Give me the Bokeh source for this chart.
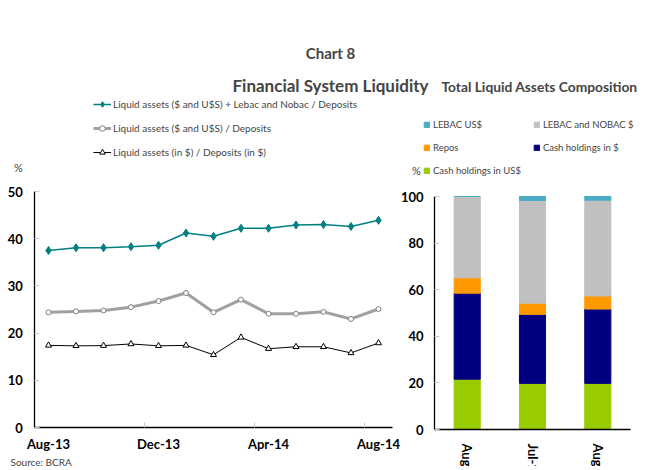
import math
from bokeh.plotting import figure
from bokeh.models import (Legend, LegendItem, Label, FixedTicker, Range1d, LinearAxis,
                          ColumnDataSource)
from bokeh.embed import file_html
from bokeh.resources import INLINE

# ---------------- data ----------------
months = ["Aug-13", "Sep-13", "Oct-13", "Nov-13", "Dec-13", "Jan-14", "Feb-14",
          "Mar-14", "Apr-14", "May-14", "Jun-14", "Jul-14", "Aug-14"]
liq_lebac = [37.5, 38.1, 38.1, 38.3, 38.6, 41.2, 40.5, 42.2, 42.2, 42.9, 43.0, 42.6, 43.9]
liq_total = [24.4, 24.6, 24.8, 25.5, 26.8, 28.5, 24.4, 27.1, 24.1, 24.1, 24.5, 23.0, 25.1]
liq_pesos = [17.4, 17.3, 17.35, 17.7, 17.3, 17.4, 15.4, 19.1, 16.7, 17.1, 17.1, 15.8, 17.9]
label_every = 4
left_ticks = [0, 10, 20, 30, 40, 50]

bar_cats = ["Aug-13", "Jul-14", "Aug-14"]
cash_usd = [21.6, 19.8, 19.8]
cash_ars = [36.9, 29.6, 31.9]
repos = [6.6, 4.8, 5.6]
lebac_nobac = [34.9, 44.1, 41.1]
lebac_usd = [0.0, 1.7, 1.6]
right_ticks = [0, 20, 40, 60, 80, 100]

FONT = "Lato"
W, H = 641, 466          # canvas; the frame fills it (all axes are pinned)


def fit(v0, p0, v1, p1, lo, hi):
    """Range whose values v0, v1 land at canvas pixels p0, p1 (canvas spans lo..hi)."""
    k = (v1 - v0) / (p1 - p0)
    return Range1d(v0 + (lo - p0) * k, v0 + (hi - p0) * k)


def up(y_from_top):
    return H - y_from_top


# pixel layout (x from left, y from top, converted to Bokeh's bottom-up screen units)
p = figure(width=W, height=H, output_backend="svg", toolbar_location=None, min_border=0,
           x_range=fit(0, 48, 12, 378, 0, W), y_range=fit(0, up(427), 50, up(191), 0, H))
p.extra_x_ranges = {"rx": fit(0, 466.7, 2, 597.3, 0, W)}
p.extra_y_ranges = {"ry": fit(0, up(429), 100, up(196), 0, H)}
p.outline_line_color = None
p.grid.visible = False


def style_axis(ax):
    ax.axis_line_color = "black"
    ax.axis_line_width = 1.3
    ax.major_label_text_font = FONT
    ax.major_label_text_font_style = "bold"
    ax.major_label_text_font_size = "13px"
    ax.major_label_text_color = "black"
    ax.minor_tick_line_color = None


# ---------------- left chart ----------------
xs = list(range(len(months)))
r1l = p.line(xs, liq_lebac, line_color="#008080", line_width=1.5)
r1m = p.scatter(xs, liq_lebac, marker="diamond", size=8, fill_color="#008080", line_color="#008080")
r2l = p.line(xs, liq_total, line_color="#A0A0A0", line_width=3)
r2m = p.scatter(xs, liq_total, marker="circle", size=5, fill_color="white", line_color="#808080")
r3l = p.line(xs, liq_pesos, line_color="black", line_width=1)
r3m = p.scatter(xs, liq_pesos, marker="triangle", size=6, fill_color="white", line_color="black")

lx = p.xaxis[0]
ly = p.yaxis[0]
style_axis(lx)
style_axis(ly)
label_ticks = xs[::label_every]
lx.ticker = FixedTicker(ticks=label_ticks, minor_ticks=[t - 0.5 for t in label_ticks[1:]])
lx.major_label_overrides = {t: months[t] for t in label_ticks}
lx.major_tick_line_color = None
lx.minor_tick_in = 5
lx.minor_tick_out = 0
lx.minor_tick_line_color = "#C8C8C8"
lx.major_label_standoff = 2
lx.fixed_location = 0
lx.bounds = (-0.5, len(months) - 0.5)
ly.ticker = FixedTicker(ticks=left_ticks)
ly.major_tick_in = 5
ly.major_tick_out = 0
ly.major_tick_line_color = "#C8C8C8"
ly.major_label_standoff = 12
ly.fixed_location = -0.5
ly.bounds = (left_ticks[0], left_ticks[-1])

leg1 = Legend(items=[
    LegendItem(label="Liquid assets ($ and U$S) + Lebac and Nobac / Deposits", renderers=[r1l, r1m]),
    LegendItem(label="Liquid assets ($ and U$S) / Deposits", renderers=[r2l, r2m]),
    LegendItem(label="Liquid assets (in $) / Deposits (in $)", renderers=[r3l, r3m]),
], location=(93, up(159)), orientation="vertical", padding=0, margin=0, spacing=10,
    label_height=14, glyph_height=14, glyph_width=18, label_standoff=2,
    label_text_font=FONT, label_text_font_size="10px", border_line_color=None,
    background_fill_alpha=0)
p.add_layout(leg1, "center")

# ---------------- right chart ----------------
bx = list(range(len(bar_cats)))
src = ColumnDataSource(dict(x=bx, cash_usd=cash_usd, cash_ars=cash_ars, repos=repos,
                            lebac_nobac=lebac_nobac, lebac_usd=lebac_usd))
stack_keys = ["cash_usd", "cash_ars", "repos", "lebac_nobac", "lebac_usd"]
stack_cols = ["#99CC00", "#000080", "#FF9900", "#C0C0C0", "#4BACC6"]
stack_names = ["Cash holdings in US$", "Cash holdings in $", "Repos", "LEBAC and NOBAC $", "LEBAC US$"]
rends = p.vbar_stack(stack_keys, x="x", width=0.4, color=stack_cols, source=src,
                     line_color=stack_cols, x_range_name="rx", y_range_name="ry")

rx_ax = LinearAxis(x_range_name="rx", y_range_name="ry")
style_axis(rx_ax)
rx_ax.ticker = FixedTicker(ticks=bx)
rx_ax.major_label_overrides = {i: c for i, c in zip(bx, bar_cats)}
rx_ax.major_label_orientation = "vertical"
rx_ax.major_tick_line_color = None
rx_ax.major_label_standoff = 8
rx_ax.fixed_location = 0
rx_ax.bounds = (-0.5, len(bar_cats) - 0.5)
p.add_layout(rx_ax, "below")

ry_ax = LinearAxis(x_range_name="rx", y_range_name="ry")
style_axis(ry_ax)
ry_ax.ticker = FixedTicker(ticks=right_ticks)
ry_ax.major_tick_in = 5
ry_ax.major_tick_out = 0
ry_ax.major_tick_line_color = "#C8C8C8"
ry_ax.major_label_standoff = 11
ry_ax.fixed_location = -0.5
ry_ax.bounds = (right_ticks[0], right_ticks[-1])
p.add_layout(ry_ax, "left")

leg2 = Legend(items=[LegendItem(label=n, renderers=[r]) for n, r in
                     reversed(list(zip(stack_names, rends)))],
              location=(423, up(176)), orientation="horizontal", ncols=2, padding=0, margin=0,
              spacing=12, label_height=10, glyph_height=7, glyph_width=7, label_standoff=3,
              label_text_font=FONT, label_text_font_size="9.5px", border_line_color=None,
              background_fill_alpha=0)
p.add_layout(leg2, "center")

# ---------------- texts ----------------
def add_text(x, y, text, size, bold=False, align="center"):
    p.add_layout(Label(x=x, y=up(y), x_units="screen", y_units="screen", text=text,
                       text_font=FONT, text_font_size=size,
                       text_font_style="bold" if bold else "normal",
                       text_align=align, text_baseline="middle"))


add_text(330, 52, "Chart 8", "15px", bold=True)
add_text(330, 85, "Financial System Liquidity", "17px", bold=True)
add_text(539, 86, "Total Liquid Assets Composition", "13.8px", bold=True)
add_text(18, 167, "%", "11px")
add_text(416, 170, "%", "11px")
add_text(10, 461, "Source: BCRA", "10px", align="left")

open("out.html", "w").write(file_html(p, INLINE))
